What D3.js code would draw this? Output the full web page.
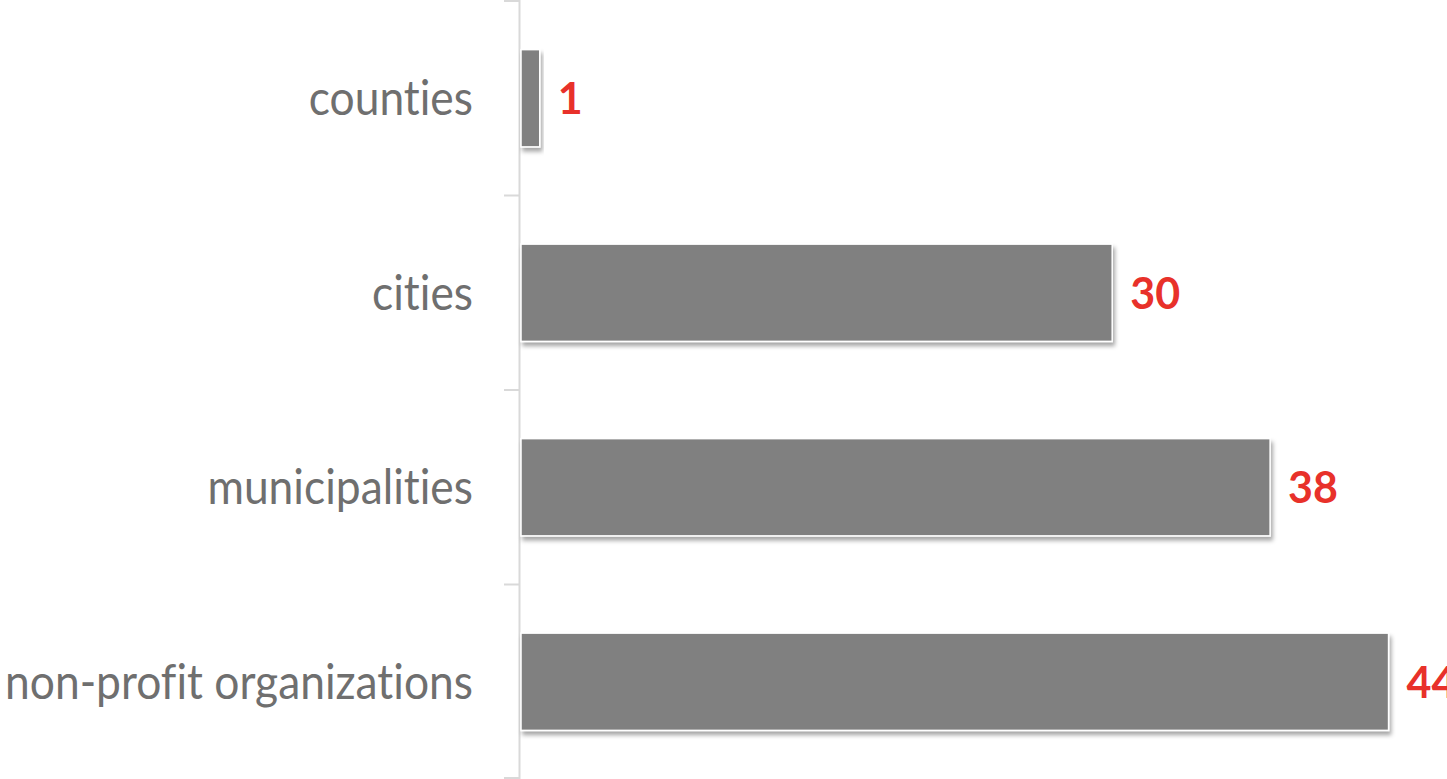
<!DOCTYPE html>
<html>
<head>
<meta charset="utf-8">
<script src="https://cdn.jsdelivr.net/npm/d3@7"></script>
<style>
  html, body { margin: 0; padding: 0; background: #ffffff; overflow: hidden; }
  svg { display: block; }
  text { font-variant-ligatures: none; font-feature-settings: "liga" 0, "clig" 0; }
</style>
</head>
<body>
<svg id="chart" width="1447" height="779"></svg>
<script>
const categories = ["counties", "cities", "municipalities", "non-profit organizations"];
const values = [1, 30, 38, 44];
const xDomain = [0, 50];

const W = 1447, H = 779;
const axisX = 520;
const svg = d3.select("#chart");

const defs = svg.append("defs");
const f = defs.append("filter").attr("id", "shadow")
  .attr("x", "-10%").attr("y", "-10%").attr("width", "130%").attr("height", "140%");
f.append("feDropShadow").attr("dx", 2).attr("dy", 4).attr("stdDeviation", 2.2)
  .attr("flood-color", "#000").attr("flood-opacity", 0.35);

const y = d3.scaleBand().domain(categories).range([1, H]).paddingInner(0.5).paddingOuter(0.25);
const x = d3.scaleLinear().domain(xDomain).range([axisX, axisX + 987]);

// axis line
svg.append("line")
  .attr("x1", axisX - 0.5).attr("x2", axisX - 0.5)
  .attr("y1", 0).attr("y2", H)
  .attr("stroke", "#d9d9d9").attr("stroke-width", 2);

// ticks at band boundaries
const step = y.step();
const tickYs = d3.range(categories.length + 1).map(i => Math.min(H - 1, 1 + i * step));
svg.selectAll(".tick").data(tickYs).enter().append("line")
  .attr("x1", axisX - 16).attr("x2", axisX)
  .attr("y1", d => d).attr("y2", d => d)
  .attr("stroke", "#d9d9d9").attr("stroke-width", 2);

// bars
svg.selectAll(".bar").data(categories).enter().append("rect")
  .attr("x", x(0) + 1)
  .attr("y", d => y(d))
  .attr("width", (d, i) => x(values[i]) - x(0) - 1)
  .attr("height", y.bandwidth())
  .attr("fill", "#808080")
  .attr("stroke", "#ffffff").attr("stroke-width", 1.5)
  .attr("filter", "url(#shadow)");

// category labels
const catLabels = svg.selectAll(".cat").data(categories).enter().append("text")
  .attr("x", 473)
  .attr("y", d => y(d) + y.bandwidth() / 2 + 17)
  .attr("text-anchor", "end")
  .attr("font-family", "Lato, 'Open Sans', sans-serif")
  .attr("font-size", 48)
  .attr("fill", "#6f6f6f")
  .text(d => d);

// fit widths so that the longest label matches reference width
const longest = catLabels.filter((d, i) => i === 3).node();
const target = 468;
const actual = longest.getComputedTextLength();
const k = target / actual;
catLabels.each(function () {
  const len = this.getComputedTextLength();
  d3.select(this).attr("textLength", len * k).attr("lengthAdjust", "spacingAndGlyphs");
});

// value labels
svg.selectAll(".val").data(categories).enter().append("text")
  .attr("x", (d, i) => x(values[i]) + 18)
  .attr("y", d => y(d) + y.bandwidth() / 2 + 16)
  .attr("font-family", "Lato, 'Liberation Sans', sans-serif")
  .attr("font-weight", "bold")
  .attr("font-size", 43)
  .attr("fill", "#e8312a")
  .text((d, i) => values[i]);
</script>
</body>
</html>
